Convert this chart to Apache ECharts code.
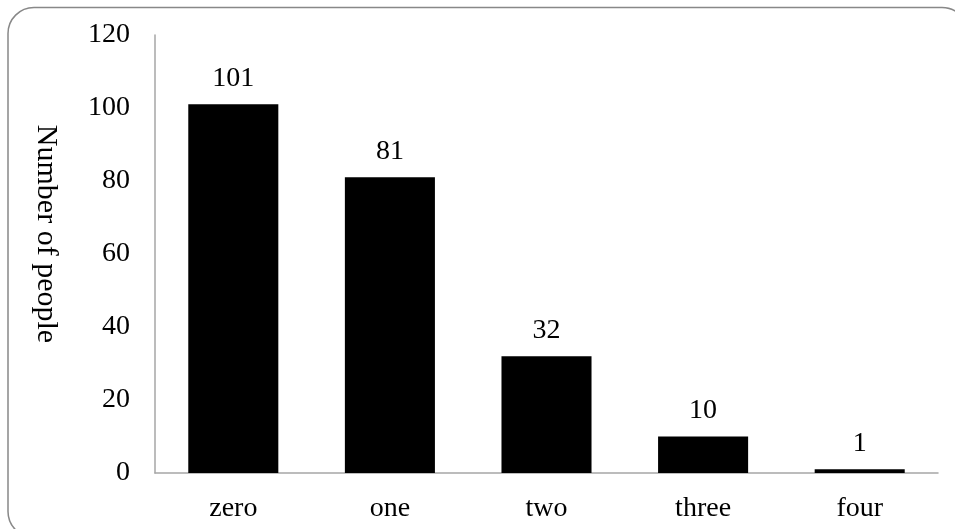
<!DOCTYPE html>
<html>
<head>
<meta charset="utf-8">
<script src="https://cdn.jsdelivr.net/npm/echarts@6/dist/echarts.min.js"></script>
<style>
  html, body { margin: 0; padding: 0; background: #fff; }
  #chart { width: 955px; height: 529px; }
</style>
</head>
<body>
<div id="chart"></div>
<script>
// Number of people per category
const categories = ['zero', 'one', 'two', 'three', 'four'];
const peopleCounts = [101, 81, 32, 10, 1];
const yTitle = 'Number of people';

const FONT = '"Liberation Serif", serif';
const AXIS_GRAY = '#a6a6a6';

const chart = echarts.init(document.getElementById('chart'), null, { renderer: 'canvas' });

chart.setOption({
  animation: false,
  backgroundColor: '#fff',
  grid: { left: 155, right: 17, top: 35, bottom: 56, containLabel: false },
  graphic: [
    {
      type: 'rect',
      shape: { x: 8, y: 7.5, width: 960, height: 530, r: 26 },
      style: { fill: 'none', stroke: '#888', lineWidth: 1.5 },
      z: 0
    },
    {
      type: 'text',
      x: 46,
      y: 234,
      rotation: -Math.PI / 2,
      style: {
        text: yTitle,
        font: '30px ' + FONT,
        fill: '#000',
        align: 'center',
        verticalAlign: 'middle'
      }
    }
  ],
  xAxis: {
    type: 'category',
    data: categories,
    axisLine: { show: true, lineStyle: { color: AXIS_GRAY, width: 1.5 } },
    axisTick: { show: false },
    axisLabel: { fontFamily: FONT, fontSize: 28, color: '#000', margin: 22 },
    splitLine: { show: false }
  },
  yAxis: {
    type: 'value',
    min: 0,
    max: 120,
    interval: 20,
    axisLine: { show: true, lineStyle: { color: AXIS_GRAY, width: 1.5 } },
    axisTick: { show: false },
    axisLabel: { fontFamily: FONT, fontSize: 28, color: '#000', margin: 25 },
    splitLine: { show: false }
  },
  series: [
    {
      type: 'bar',
      data: peopleCounts,
      barWidth: '57.5%',
      itemStyle: { color: '#000' },
      label: {
        show: true,
        position: 'top',
        distance: 12,
        fontFamily: FONT,
        fontSize: 28,
        color: '#000'
      }
    }
  ]
});
</script>
</body>
</html>
